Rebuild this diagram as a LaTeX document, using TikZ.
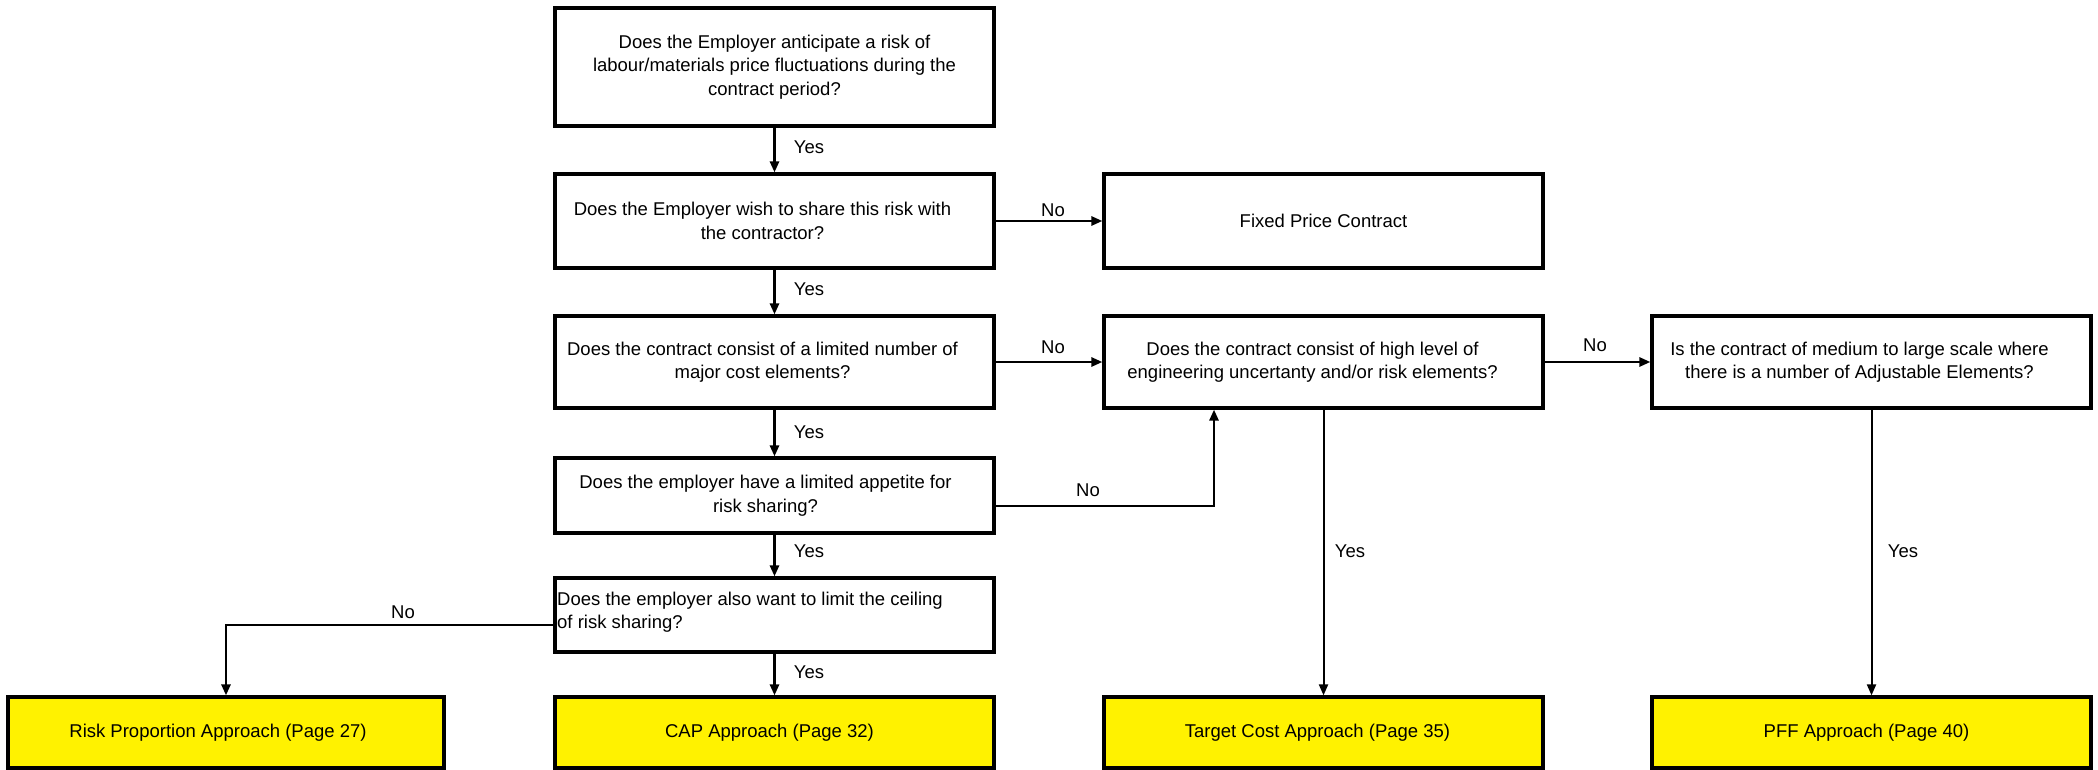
\documentclass[tikz,border=0pt]{standalone}
\usepackage{fontspec}
\setmainfont{Liberation Sans}
\usetikzlibrary{arrows.meta,calc}
\newcommand\rsh[1]{\hspace*{#1pt}}
\begin{document}
\begin{tikzpicture}[x=1pt,y=-1pt,
  box/.style={draw=black,line width=3.2pt,minimum width=439pt,inner sep=0pt,align=center,font=\fontsize{18.5}{23.5}\selectfont},
  yel/.style={box,fill=yellow,minimum height=71pt},
  arr/.style={line width=2.6pt,-{Triangle[length=11pt,width=9pt]}},
  thinarr/.style={line width=2pt,-{Triangle[length=11pt,width=9pt]}},
  lbl/.style={font=\fontsize{18.5}{22}\selectfont,inner sep=0pt}]
\useasboundingbox (0,0) rectangle (2098,770);
\node[box,minimum height=118pt] (b1) at (774.5,67) {Does the Employer anticipate a risk of\\labour/materials price fluctuations during the\\contract period?};
\node[box,minimum height=94pt] (b2) at (774.5,221) {Does the Employer wish to share this risk with\rsh{24}\\the contractor?\rsh{24}};
\node[box,minimum height=94pt] (fp) at (1323.5,221) {Fixed Price Contract};
\node[box,minimum height=92pt] (b3) at (774.5,362) {Does the contract consist of a limited number of\rsh{24}\\major cost elements?\rsh{24}};
\node[box,minimum height=92pt] (eng) at (1323.5,362) {Does the contract consist of high level of\rsh{22}\\engineering uncertanty and/or risk elements?\rsh{22}};
\node[box,minimum height=92pt] (med) at (1871.5,362) {Is the contract of medium to large scale where\rsh{24}\\there is a number of Adjustable Elements?\rsh{24}};
\node[box,minimum height=75pt] (b4) at (774.5,495.5) {Does the employer have a limited appetite for\rsh{18}\\risk sharing?\rsh{18}};
\node[box,minimum height=74pt] (b5) at (774.5,615) {};
\node[anchor=west,align=left,inner sep=0pt,font=\fontsize{18.5}{23.5}\selectfont] (b5t) at (557,612) {Does the employer also want to limit the ceiling\\of risk sharing?};
\node[yel,minimum width=436pt] (risk) at (226,732.5) {Risk Proportion Approach (Page 27)\rsh{16}};
\node[yel] (cap) at (774.5,732.5) {CAP Approach (Page 32)\rsh{10}};
\node[yel] (tgt) at (1323.5,732.5) {Target Cost Approach (Page 35)\rsh{12}};
\node[yel] (pff) at (1871.5,732.5) {PFF Approach (Page 40)\rsh{10}};
% connectors
\draw[arr] (b1.south) -- (b2.north);
\draw[arr] (b2.south) -- (b3.north);
\draw[arr] (b3.south) -- (b4.north);
\draw[arr] (b4.south) -- (b5.north);
\draw[arr] (b5.south) -- (cap.north);
\draw[arr] (b2.east) -- (fp.west);
\draw[arr] (b3.east) -- (eng.west);
\draw[arr] (eng.east) -- (med.west);
\draw[arr] ([yshift=-10.5pt]b4.east) -| ([xshift=-109.5pt]eng.south);
\draw[arr] ([yshift=-10pt]b5.west) -| (risk.north);
\draw[thinarr] (eng.south) -- (tgt.north);
\draw[thinarr] (med.south) -- (pff.north);
% labels
\node[lbl] (y1) at (809,147) {Yes};
\node[lbl] (y2) at (809,289) {Yes};
\node[lbl] (y3) at (809,432) {Yes};
\node[lbl] (y4) at (809,551) {Yes};
\node[lbl] (y5) at (809,672) {Yes};
\node[lbl] (y6) at (1350,551) {Yes};
\node[lbl] (y7) at (1903,551) {Yes};
\node[lbl] (n1) at (1053,210) {No};
\node[lbl] (n2) at (1053,347) {No};
\node[lbl] (n3) at (1595,345) {No};
\node[lbl] (n4) at (1088,490) {No};
\node[lbl] (n5) at (403,612) {No};
\end{tikzpicture}
\end{document}
